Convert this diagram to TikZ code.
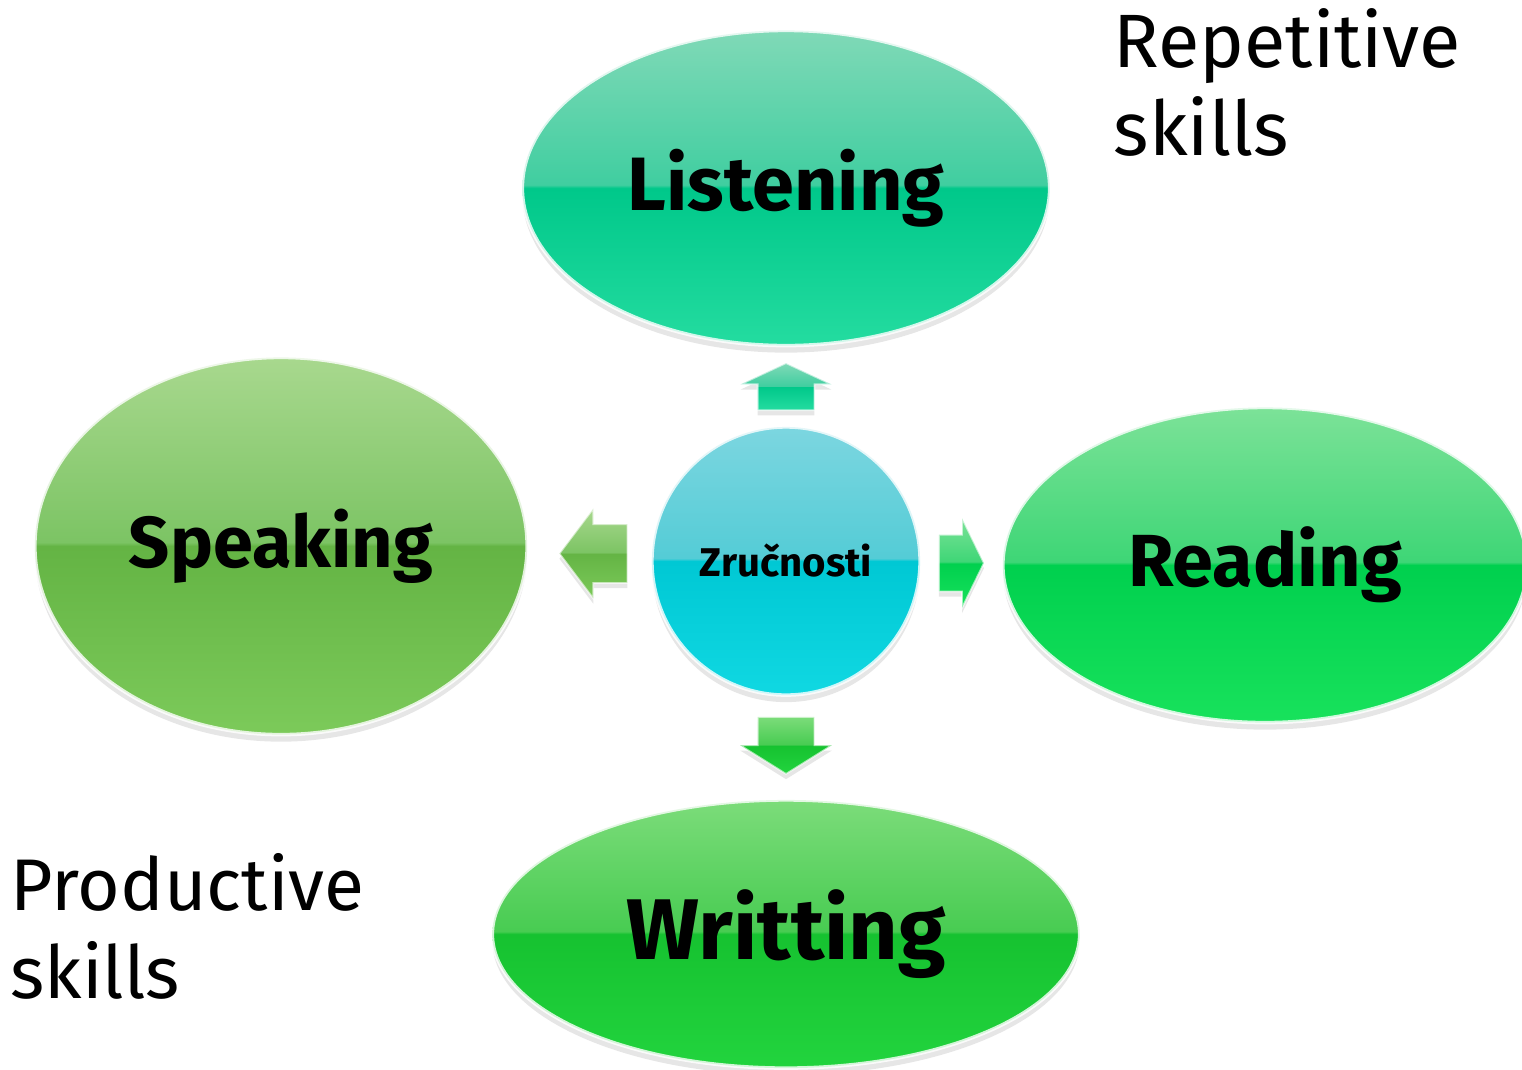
\documentclass[tikz,border=0pt]{standalone}
\usepackage{fontspec}
\setmainfont{Fira Sans}
\usetikzlibrary{shapes.geometric,shapes.arrows,shadows,calc}

% two-tone glossy fill: top, just above middle, just below middle, bottom
\newcommand{\glossfill}[5]{%
  \pgfdeclareverticalshading{#1}{100bp}{color(0bp)=(#5); color(25bp)=(#5);
    color(50bp)=(#4); color(50.5bp)=(#3); color(75bp)=(#2); color(100bp)=(#2)}}
\glossfill{listenshade}{rgb,255:red,128;green,217;blue,183}{rgb,255:red,64;green,206;blue,160}{rgb,255:red,0;green,200;blue,138}{rgb,255:red,36;green,220;blue,160}
\glossfill{speakshade}{rgb,255:red,168;green,216;blue,142}{rgb,255:red,124;green,196;blue,100}{rgb,255:red,100;green,180;blue,68}{rgb,255:red,124;green,202;blue,90}
\glossfill{readshade}{rgb,255:red,124;green,226;blue,152}{rgb,255:red,62;green,214;blue,118}{rgb,255:red,0;green,208;blue,78}{rgb,255:red,24;green,226;blue,92}
\glossfill{writeshade}{rgb,255:red,124;green,220;blue,122}{rgb,255:red,72;green,204;blue,82}{rgb,255:red,22;green,194;blue,48}{rgb,255:red,34;green,212;blue,62}
\glossfill{hubshade}{rgb,255:red,124;green,214;blue,224}{rgb,255:red,84;green,204;blue,214}{rgb,255:red,0;green,200;blue,212}{rgb,255:red,16;green,216;blue,226}

\tikzset{
  skill/.style={ellipse, inner sep=0pt, draw=white, draw opacity=0.8,
    line width=1pt, font=\bfseries\fontsize{21.5}{25}\selectfont,
    drop shadow={shadow xshift=0pt, shadow yshift=-2pt, opacity=0.2}},
  blockarrow/.style={single arrow, inner xsep=0pt, inner ysep=0.275cm,
    draw=white, draw opacity=0.6, line width=0.5pt,
    drop shadow={shadow xshift=0pt, shadow yshift=-1.5pt, opacity=0.2}},
  note/.style={align=left, inner sep=0pt, font=\fontsize{21.5}{25}\selectfont}
}

\begin{document}
\begin{tikzpicture}[x=0.01cm, y=-0.01cm]
  \useasboundingbox (0,0) rectangle (1522,1069);

  % centre and the four skills
  \node[skill, circle, minimum size=2.68cm, shading=hubshade,
    font=\bfseries\fontsize{11.4}{14}\selectfont] (hub) at (786,561) {Zručnosti};
  \node[skill, minimum width=5.27cm, minimum height=3.15cm, shading=listenshade] (listen) at (786,188) {Listening};
  \node[skill, minimum width=4.92cm, minimum height=3.77cm, shading=speakshade,
    font=\bfseries\fontsize{20.5}{24}\selectfont] (speak) at (281,546) {Speaking};
  \node[skill, minimum width=5.24cm, minimum height=3.15cm, shading=readshade,
    font=\bfseries\fontsize{21}{25}\selectfont] (read) at (1265,565) {Reading};
  \node[skill, minimum width=5.87cm, minimum height=2.68cm, shading=writeshade,
    font=\bfseries\fontsize{24.5}{29}\selectfont] (write) at (786,934) {Writting};

  % arrows out of the centre
  \node[blockarrow, rotate=90, minimum height=0.47cm,
    single arrow head extend=0.17cm, single arrow tip angle=130, shading=listenshade]
    (toListen) at ($(hub.north)!0.5!(listen.south)+(0,7)$) {};
  \node[blockarrow, rotate=180, minimum height=0.68cm, inner ysep=0.285cm,
    single arrow head extend=0.155cm, single arrow tip angle=106, shading=speakshade]
    (toSpeak) at ($(hub.west)!0.5!(speak.east)+(15,0)$) {};
  \node[blockarrow, minimum height=0.45cm,
    single arrow head extend=0.165cm, single arrow tip angle=128, shading=readshade]
    (toRead) at ($(hub.east)!0.5!(read.west)+(-7,0)$) {};
  \node[blockarrow, rotate=-90, minimum height=0.57cm,
    single arrow head extend=0.175cm, single arrow tip angle=116, shading=writeshade]
    (toWrite) at ($(hub.south)!0.5!(write.north)+(0,-11)$) {};

  % group labels
  \node[note, anchor=north west] (repLabel) at (1113,8) {Repetitive\\skills};
  \node[note, anchor=north west, font=\fontsize{20.8}{25}\selectfont]
    (prodLabel) at (10,853) {Productive\\skills};
\end{tikzpicture}
\end{document}
